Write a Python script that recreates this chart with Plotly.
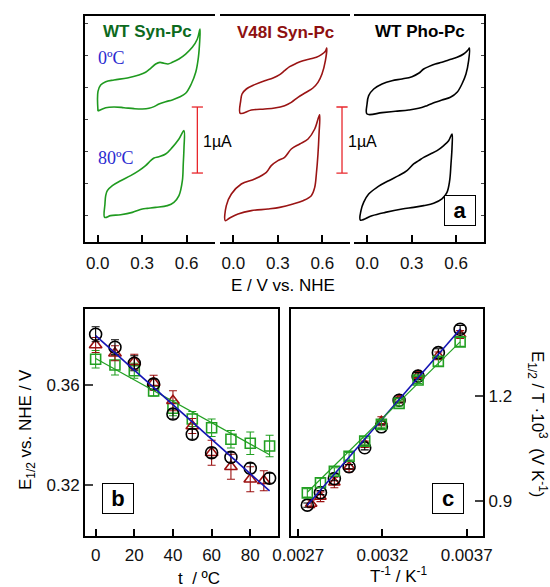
import plotly.graph_objects as go

W, H = 550, 587

# ---------------- Panel a: cyclic voltammograms (E in V, I in µA, display offsets included) -------------
syn_0C_E = [0.002, 0.002, 0.020, 0.054, 0.110, 0.200, 0.278, 0.323, 0.357, 0.391, 0.420, 0.447, 0.474, 0.503,
            0.548, 0.593, 0.638, 0.672, 0.690,
            0.688, 0.679, 0.661, 0.631, 0.593, 0.548, 0.503, 0.458, 0.413, 0.380, 0.346, 0.301, 0.245, 0.177,
            0.110, 0.054, 0.002]
syn_0C_I = [1.980, 2.283, 2.379, 2.429, 2.455, 2.485, 2.530, 2.571, 2.631, 2.697, 2.722, 2.707, 2.697, 2.722,
            2.773, 2.848, 2.949, 3.076, 3.227,
            3.051, 2.798, 2.571, 2.394, 2.253, 2.192, 2.152, 2.126, 2.091, 2.051, 2.025, 2.015, 2.020, 2.035,
            2.046, 2.035, 1.985]
syn_80C_E = [0.047, 0.049, 0.054, 0.065, 0.099, 0.155, 0.222, 0.278, 0.323, 0.357, 0.380, 0.413, 0.458, 0.503,
             0.548, 0.582,
             0.582, 0.577, 0.571, 0.548, 0.514, 0.470, 0.391, 0.335, 0.301, 0.234, 0.155, 0.087, 0.047]
syn_80C_I = [0.374, 0.576, 0.702, 0.778, 0.854, 0.929, 1.005, 1.081, 1.157, 1.232, 1.273, 1.293, 1.333, 1.434,
             1.561, 1.687,
             1.434, 1.182, 0.929, 0.702, 0.601, 0.551, 0.525, 0.510, 0.500, 0.449, 0.414, 0.399, 0.374]

v48_0C_E = [0.047, 0.050, 0.059, 0.088, 0.144, 0.212, 0.268, 0.313, 0.346, 0.380, 0.425, 0.470, 0.515, 0.560,
            0.594, 0.621, 0.630,
            0.621, 0.598, 0.571, 0.537, 0.492, 0.436, 0.391, 0.346, 0.279, 0.212, 0.122, 0.047]
v48_0C_I = [1.949, 2.141, 2.242, 2.318, 2.384, 2.444, 2.485, 2.535, 2.596, 2.657, 2.707, 2.747, 2.773, 2.798,
            2.838, 2.889, 2.939,
            2.747, 2.545, 2.419, 2.333, 2.268, 2.192, 2.116, 2.066, 2.030, 2.015, 2.000, 1.949]
v48_80C_E = [-0.054, -0.047, -0.013, 0.054, 0.144, 0.223, 0.256, 0.301, 0.346, 0.391, 0.448, 0.504, 0.549, 0.582,
             0.578, 0.571, 0.560, 0.549, 0.526, 0.470, 0.403, 0.313, 0.234, 0.122, 0.032, -0.024, -0.054]
v48_80C_I = [0.323, 0.551, 0.727, 0.879, 0.955, 1.056, 1.157, 1.232, 1.283, 1.409, 1.485, 1.561, 1.712, 1.929,
             1.636, 1.333, 1.030, 0.828, 0.702, 0.626, 0.576, 0.525, 0.500, 0.475, 0.424, 0.364, 0.323]

pho_0C_E = [-0.001, -0.001, 0.010, 0.044, 0.100, 0.167, 0.235, 0.302, 0.347, 0.381, 0.414, 0.459, 0.504, 0.549,
            0.606, 0.650, 0.680, 0.689,
            0.684, 0.666, 0.639, 0.606, 0.561, 0.504, 0.459, 0.403, 0.347, 0.280, 0.190, 0.100, -0.001]
pho_0C_I = [1.939, 2.091, 2.217, 2.318, 2.394, 2.444, 2.470, 2.505, 2.556, 2.621, 2.657, 2.697, 2.722, 2.758,
            2.798, 2.848, 2.909, 2.939,
            2.747, 2.545, 2.394, 2.268, 2.192, 2.152, 2.116, 2.066, 2.025, 2.000, 1.980, 1.960, 1.939]
pho_80C_E = [-0.046, -0.042, -0.024, 0.010, 0.066, 0.145, 0.212, 0.268, 0.313, 0.347, 0.381, 0.426, 0.471, 0.516,
             0.549, 0.572,
             0.572, 0.565, 0.556, 0.538, 0.504, 0.448, 0.381, 0.313, 0.235, 0.122, 0.032, -0.046]
pho_80C_I = [0.333, 0.475, 0.601, 0.727, 0.828, 0.929, 1.005, 1.081, 1.182, 1.232, 1.283, 1.333, 1.384, 1.460,
             1.535, 1.636,
             1.434, 1.182, 0.929, 0.753, 0.652, 0.586, 0.551, 0.525, 0.500, 0.449, 0.399, 0.333]

cv_ticks = [0.0, 0.3, 0.6]
cv_ticktext = ["0.0", "0.3", "0.6"]
panel_titles = ["WT Syn-Pc", "V48I Syn-Pc", "WT Pho-Pc"]
temp_labels = ["0ºC", "80ºC"]
scale_I = [1.045, 2.045]          # 1 µA scale bar
scale_E = [0.672, 0.733]          # bar positions in panel 1 and panel 2

# ---------------- Panel b: E1/2 vs t -------------
t_circ = [0, 10, 20, 30, 40, 50, 60, 70, 80, 90]
E_circ = [0.3803, 0.3751, 0.3687, 0.3604, 0.3484, 0.3403, 0.3329, 0.3311, 0.3267, 0.3227]
e_circ = [0.003, 0.003, 0.003, 0.002, 0.002, 0.002, 0.002, 0.002, 0.002, 0.002]
t_tri = [0, 10, 20, 30, 40, 50, 60, 70, 80, 87]
E_tri = [0.3760, 0.3727, 0.3693, 0.3609, 0.3537, 0.3436, 0.3329, 0.3273, 0.3223, 0.3217]
e_tri = [0.003, 0.003, 0.003, 0.003, 0.004, 0.003, 0.005, 0.005, 0.005, 0.004]
t_sq = [0, 10, 20, 30, 40, 50, 60, 70, 80, 90]
E_sq = [0.3703, 0.3680, 0.3657, 0.3576, 0.3507, 0.3464, 0.3429, 0.3383, 0.3367, 0.3356]
e_sq = [0.0035, 0.004, 0.003, 0.002, 0.003, 0.003, 0.0035, 0.0035, 0.0045, 0.0043]
fit_t = [0, 90]
fit_blue_E = [0.3798, 0.3176]
fit_green_E = [0.3706, 0.3321]

# ---------------- Panel c: E1/2/T·10^3 vs 1/T -------------
invT_circ = [0.0036610, 0.0035317, 0.0034112, 0.0032987, 0.0031934, 0.0030945, 0.0030017, 0.0029142, 0.0028317, 0.0027537]
ET_circ = [1.392, 1.325, 1.258, 1.189, 1.113, 1.053, 0.999, 0.965, 0.925, 0.889]
eT_circ = [0.011, 0.011, 0.010, 0.007, 0.006, 0.006, 0.006, 0.006, 0.006, 0.006]
invT_tri = [0.0036610, 0.0035317, 0.0034112, 0.0032987, 0.0031934, 0.0030945, 0.0030017, 0.0029142, 0.0028317, 0.0027766]
ET_tri = [1.377, 1.316, 1.260, 1.191, 1.129, 1.063, 0.999, 0.954, 0.913, 0.893]
eT_tri = [0.011, 0.011, 0.010, 0.010, 0.013, 0.009, 0.015, 0.015, 0.014, 0.011]
invT_sq = [0.0036610, 0.0035317, 0.0034112, 0.0032987, 0.0031934, 0.0030945, 0.0030017, 0.0029142, 0.0028317, 0.0027537]
ET_sq = [1.356, 1.300, 1.247, 1.180, 1.120, 1.072, 1.029, 0.986, 0.953, 0.924]
eT_sq = [0.013, 0.014, 0.010, 0.007, 0.010, 0.009, 0.011, 0.010, 0.013, 0.012]
fitc_x = [0.0027537, 0.0036610]
fitc_blue = [0.889, 1.392]
fitc_green = [0.926, 1.356]

# ---------------- styles -------------
GREEN_CV = "#1f9a1f"
RED_CV = "#9a1414"
BLACK = "#000000"
GREEN_T = "#0d6a1d"
RED_T = "#8e1010"
BLUE_T = "#2a2ad0"
SCALE_RED = "#e8262b"
MK_GREEN = "#22a022"
MK_RED = "#9b1010"
FIT_BLUE = "#1414b4"
SANS = "Arial, Liberation Sans, sans-serif"
SERIF = "Times New Roman, Liberation Serif, serif"

fig = go.Figure()

def px(x):
    return x / W

def py(y):
    return 1 - y / H

cv_sets = [
    ("x", "y", [(syn_0C_E, syn_0C_I), (syn_80C_E, syn_80C_I)], GREEN_CV),
    ("x2", "y2", [(v48_0C_E, v48_0C_I), (v48_80C_E, v48_80C_I)], RED_CV),
    ("x3", "y3", [(pho_0C_E, pho_0C_I), (pho_80C_E, pho_80C_I)], BLACK),
]
for xa, ya, curves, col in cv_sets:
    for E, I in curves:
        fig.add_trace(go.Scatter(x=E, y=I, mode="lines", xaxis=xa, yaxis=ya,
                                 line=dict(color=col, width=1.6, shape="spline", smoothing=1.0),
                                 showlegend=False, hoverinfo="skip"))

for xa, ya, e in [("x", "y", scale_E[0]), ("x2", "y2", scale_E[1])]:
    fig.add_trace(go.Scatter(x=[e, e], y=scale_I, mode="lines+markers", xaxis=xa, yaxis=ya,
                             line=dict(color=SCALE_RED, width=1.3),
                             marker=dict(symbol="line-ew-open", size=8, line=dict(color=SCALE_RED, width=1.3)),
                             showlegend=False, hoverinfo="skip"))

# panel b
fig.add_trace(go.Scatter(x=t_sq, y=E_sq, mode="markers", xaxis="x4", yaxis="y4",
                         marker=dict(symbol="square-open", size=10, color=MK_GREEN, line=dict(width=1.6)),
                         error_y=dict(type="data", array=e_sq, color=MK_GREEN, thickness=1.1, width=4),
                         showlegend=False))
fig.add_trace(go.Scatter(x=t_tri, y=E_tri, mode="markers", xaxis="x4", yaxis="y4",
                         marker=dict(symbol="triangle-up-open", size=11, color=MK_RED, line=dict(width=1.6)),
                         error_y=dict(type="data", array=e_tri, color=MK_RED, thickness=1.1, width=4),
                         showlegend=False))
fig.add_trace(go.Scatter(x=t_circ, y=E_circ, mode="markers", xaxis="x4", yaxis="y4",
                         marker=dict(symbol="circle-open", size=12, color=BLACK, line=dict(width=1.6)),
                         error_y=dict(type="data", array=e_circ, color=BLACK, thickness=1.1, width=4),
                         showlegend=False))
fig.add_trace(go.Scatter(x=fit_t, y=fit_green_E, mode="lines", xaxis="x4", yaxis="y4",
                         line=dict(color=MK_GREEN, width=1.2), showlegend=False))
fig.add_trace(go.Scatter(x=fit_t, y=fit_blue_E, mode="lines", xaxis="x4", yaxis="y4",
                         line=dict(color=FIT_BLUE, width=1.6), showlegend=False))

# panel c
fig.add_trace(go.Scatter(x=invT_tri, y=ET_tri, mode="markers", xaxis="x5", yaxis="y5",
                         marker=dict(symbol="triangle-up-open", size=10, color=MK_RED, line=dict(width=1.6)),
                         error_y=dict(type="data", array=eT_tri, color=MK_RED, thickness=1.1, width=4),
                         showlegend=False))
fig.add_trace(go.Scatter(x=invT_circ, y=ET_circ, mode="markers", xaxis="x5", yaxis="y5",
                         marker=dict(symbol="circle-open", size=12, color=BLACK, line=dict(width=1.6)),
                         error_y=dict(type="data", array=eT_circ, color=BLACK, thickness=1.1, width=4),
                         showlegend=False))
fig.add_trace(go.Scatter(x=invT_sq, y=ET_sq, mode="markers", xaxis="x5", yaxis="y5",
                         marker=dict(symbol="square-open", size=10, color=MK_GREEN, line=dict(width=1.6)),
                         error_y=dict(type="data", array=eT_sq, color=MK_GREEN, thickness=1.1, width=4),
                         showlegend=False))
fig.add_trace(go.Scatter(x=fitc_x, y=fitc_blue, mode="lines", xaxis="x5", yaxis="y5",
                         line=dict(color=FIT_BLUE, width=1.6), showlegend=False))
fig.add_trace(go.Scatter(x=fitc_x, y=fitc_green, mode="lines", xaxis="x5", yaxis="y5",
                         line=dict(color=MK_GREEN, width=1.2), showlegend=False))

tickfont = dict(family=SANS, size=17, color="#111111")
LW = 1.8

def xax(dom, rng, tv, tt, anchor, standoff=3):
    return dict(domain=[px(dom[0]), px(dom[1])], range=rng, anchor=anchor,
                showline=True, mirror=True, linecolor="black", linewidth=LW,
                ticks="inside", ticklen=7, tickwidth=1.5, tickcolor="black",
                tickvals=tv, ticktext=tt, tickfont=tickfont, ticklabelstandoff=standoff,
                showgrid=False, zeroline=False, fixedrange=True)

top_dom = [py(242), py(16)]
bot_dom = [py(535.7), py(309.3)]

layout = dict(
    width=W, height=H, margin=dict(l=0, r=0, t=0, b=0, autoexpand=False),
    paper_bgcolor="white", plot_bgcolor="rgba(0,0,0,0)", showlegend=False,
    xaxis=xax((85, 215), [-0.0856, 0.791], cv_ticks, cv_ticktext, "y", 5),
    xaxis2=xax((219.5, 349.5), [-0.093, 0.7835], cv_ticks, cv_ticktext, "y2", 5),
    xaxis3=xax((354, 484), [-0.089, 0.7876], cv_ticks, cv_ticktext, "y3", 5),
    yaxis=dict(domain=top_dom, range=[0, 3.424], anchor="x", showline=True, mirror=False,
               linecolor="black", linewidth=LW, ticks="inside", ticklen=3, tickwidth=1,
               tick0=0.398, dtick=0.485, showticklabels=False, showgrid=False, zeroline=False),
    yaxis2=dict(domain=top_dom, range=[0, 3.424], anchor="x2", showline=False, ticks="",
                showticklabels=False, showgrid=False, zeroline=False),
    yaxis3=dict(domain=top_dom, range=[0, 3.424], anchor="x3", side="right", showline=True, mirror=False,
                linecolor="black", linewidth=LW, ticks="inside", ticklen=3, tickwidth=1,
                tick0=0.398, dtick=0.485, showticklabels=False, showgrid=False, zeroline=False),
    xaxis4=xax((85, 278.3), [-5.5, 94.5], [0, 20, 40, 60, 80], ["0", "20", "40", "60", "80"], "y4"),
    yaxis4=dict(domain=bot_dom, range=[0.2997, 0.3903], anchor="x4", showline=True, mirror=True,
                linecolor="black", linewidth=LW, ticks="inside", ticklen=8, tickwidth=1.5,
                tickvals=[0.32, 0.36], ticktext=["0.32", "0.36"], tickfont=tickfont,
                showgrid=False, zeroline=False),
    xaxis5=xax((290.7, 483.3), [0.002655, 0.0037986], [0.0027, 0.0032, 0.0037],
               ["0.0027", "0.0032", "0.0037"], "y5"),
    yaxis5=dict(domain=bot_dom, range=[0.8017, 1.449], anchor="x5", side="right", showline=True, mirror=True,
                linecolor="black", linewidth=LW, ticks="inside", ticklen=8, tickwidth=1.5,
                tickvals=[0.9, 1.2], ticktext=["0.9", "1.2"], tickfont=tickfont,
                showgrid=False, zeroline=False),
)
fig.update_layout(**layout)

ann = []
def A(text, x, y, size=17, color="black", family=SANS, xanchor="center", angle=0, **kw):
    ann.append(dict(text=text, x=px(x), y=py(y), xref="paper", yref="paper", showarrow=False,
                    xanchor=xanchor, yanchor="middle", textangle=angle,
                    font=dict(family=family, size=size, color=color), **kw))

A("<b>" + panel_titles[0] + "</b>", 147.5, 31, size=17, color=GREEN_T)
A("<b>" + panel_titles[1] + "</b>", 285, 32, size=17, color=RED_T)
A("<b>" + panel_titles[2] + "</b>", 420, 31, size=17, color="black")
A(temp_labels[0], 96, 58, size=18, color=BLUE_T, family=SERIF, xanchor="left")
A(temp_labels[1], 96, 158, size=18, color=BLUE_T, family=SERIF, xanchor="left")
A("1µA", 201, 142, size=16, xanchor="left")
A("1µA", 346, 142, size=16, xanchor="left")
A("E / V vs. NHE", 283, 285, size=17)
A("E<sub>1/2</sub> vs. NHE / V", 27, 430, size=17, angle=-90)
A("t  / ºC", 199, 578, size=17)
A("T<sup>-1</sup> / K<sup>-1</sup>", 398, 575, size=17)
A("E<sub>1/2</sub> / T ·10<sup>3</sup>  (V K<sup>-1</sup>)", 538, 424, size=17, angle=90)
for lab, cx, cy in [("a", 459.5, 210), ("b", 117.5, 498), ("c", 448, 498)]:
    A("<b>" + lab + "</b>", cx, cy, size=22, bordercolor="black", borderwidth=1, borderpad=1,
      width=28, height=27, bgcolor="white")
fig.update_layout(annotations=ann)

fig.write_html("out.html", config={"displayModeBar": False},
               post_script="document.body.style.margin='0px';document.body.style.overflow='hidden';")
